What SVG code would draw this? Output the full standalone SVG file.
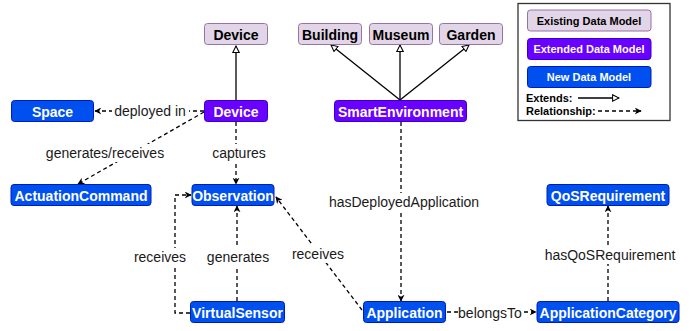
<svg xmlns="http://www.w3.org/2000/svg" width="699" height="331" viewBox="0 0 699 331">
<style>
.n rect{stroke-width:1}
.ex rect{fill:#e1d5e7;stroke:#9673a6}
.ext rect{fill:#6a00ff;stroke:#3700cc}
.nw rect{fill:#0050ef;stroke:#001dbc}
.n text{font-family:"Liberation Sans",Arial,sans-serif;font-weight:bold;font-size:14px;text-anchor:middle;dominant-baseline:central}
.ex text{fill:#000}
.ext text,.nw text{fill:#fff}
.lg text{font-size:11px}
.c path,.c line,.c polyline{fill:none;stroke:#000;stroke-width:1.3}
.dash{stroke-dasharray:4 3}
.lbl rect{fill:#fff}
.lbl text{font-family:"Liberation Sans",Arial,sans-serif;font-size:14px;fill:#1a1a1a;text-anchor:middle;dominant-baseline:central}
.lt{font-family:"Liberation Sans",Arial,sans-serif;font-weight:bold;font-size:11px;fill:#000}
</style>
<defs>
<marker id="rel" viewBox="0 0 10 10" refX="9" refY="5" markerWidth="7" markerHeight="7" markerUnits="userSpaceOnUse" orient="auto">
<path d="M0,0 L10,5 L0,10 L3,5 Z" fill="#000" stroke="none"/>
</marker>
<marker id="ext" viewBox="0 0 10 10" refX="9" refY="5" markerWidth="8" markerHeight="8" markerUnits="userSpaceOnUse" orient="auto">
<path d="M1,1 L9,5 L1,9 Z" fill="#fff" stroke="#000" stroke-width="1.3"/>
</marker>
</defs>

<g id="connectors" class="c">
<line x1="236" y1="100" x2="236" y2="46" marker-end="url(#ext)"/>
<line x1="400" y1="100" x2="331" y2="45" marker-end="url(#ext)"/>
<line x1="400" y1="100" x2="400" y2="45" marker-end="url(#ext)"/>
<line x1="400" y1="100" x2="469" y2="45" marker-end="url(#ext)"/>
<line class="dash" x1="204" y1="111" x2="95" y2="111" marker-end="url(#rel)"/>
<line class="dash" x1="204" y1="112" x2="78" y2="184" marker-end="url(#rel)"/>
<line class="dash" x1="236" y1="122" x2="236" y2="184" marker-end="url(#rel)"/>
<line class="dash" x1="401" y1="122" x2="401" y2="301" marker-end="url(#rel)"/>
<line class="dash" x1="237" y1="301" x2="237" y2="206" marker-end="url(#rel)"/>
<polyline class="dash" points="190,313 175,313 175,195 191,195" marker-end="url(#rel)"/>
<line class="dash" x1="362" y1="310" x2="276" y2="197" marker-end="url(#rel)"/>
<line class="dash" x1="447" y1="312" x2="536" y2="312" marker-end="url(#rel)"/>
<line class="dash" x1="608" y1="301" x2="608" y2="206" marker-end="url(#rel)"/>
</g>

<g id="labels" class="lbl">
<rect x="112" y="102" width="77" height="18"/><text x="150" y="111">deployed in</text>
<rect x="45" y="144" width="120" height="18"/><text x="105" y="153">generates/receives</text>
<rect x="210" y="144" width="58" height="18"/><text x="239" y="153">captures</text>
<rect x="327" y="193" width="154" height="18"/><text x="404" y="202">hasDeployedApplication</text>
<rect x="133" y="248" width="54" height="18"/><text x="160" y="257">receives</text>
<rect x="204" y="248" width="68" height="18"/><text x="238" y="257">generates</text>
<rect x="291" y="245" width="54" height="18"/><text x="318" y="254">receives</text>
<rect x="542" y="246" width="136" height="18"/><text x="610" y="255">hasQoSRequirement</text>
<rect x="458" y="304" width="64" height="18"/><text x="490" y="313">belongsTo</text>
</g>

<g id="node-device-ex" class="n ex"><rect x="204.5" y="23.5" width="63" height="21" rx="3"/><text x="236" y="34.5">Device</text></g>
<g id="node-building" class="n ex"><rect x="298.5" y="23.5" width="63" height="21" rx="3"/><text x="330" y="34.5">Building</text></g>
<g id="node-museum" class="n ex"><rect x="369.5" y="23.5" width="63" height="21" rx="3"/><text x="401" y="34.5">Museum</text></g>
<g id="node-garden" class="n ex"><rect x="439.5" y="23.5" width="63" height="21" rx="3"/><text x="471" y="34.5">Garden</text></g>

<g id="node-space" class="n nw"><rect x="11.5" y="100.5" width="82" height="21" rx="3"/><text x="52.5" y="111.5">Space</text></g>
<g id="node-device" class="n ext"><rect x="204.5" y="100.5" width="63" height="21" rx="3"/><text x="236" y="111.5">Device</text></g>
<g id="node-smartenv" class="n ext"><rect x="334.5" y="100.5" width="132" height="21" rx="3"/><text x="400.5" y="111.5">SmartEnvironment</text></g>

<g id="node-actuation" class="n nw"><rect x="11" y="184.5" width="140" height="21" rx="3"/><text x="81" y="195.5">ActuationCommand</text></g>
<g id="node-observation" class="n nw"><rect x="192" y="184.5" width="82" height="21" rx="3"/><text x="233" y="195.5">Observation</text></g>
<g id="node-qos" class="n nw"><rect x="547" y="184.5" width="122" height="21" rx="3"/><text x="608" y="195.5">QoSRequirement</text></g>

<g id="node-virtualsensor" class="n nw"><rect x="190.5" y="301.5" width="94" height="21" rx="3"/><text x="237.5" y="312.5">VirtualSensor</text></g>
<g id="node-application" class="n nw"><rect x="363.5" y="301.5" width="82" height="21" rx="3"/><text x="404.5" y="312.5">Application</text></g>
<g id="node-appcategory" class="n nw"><rect x="537" y="301.5" width="142" height="21" rx="3"/><text x="608" y="312.5">ApplicationCategory</text></g>

<g id="legend">
<rect x="518" y="3.5" width="152" height="117" fill="#fff" stroke="#333" stroke-width="1.3"/>
<g class="n ex lg"><rect x="527.5" y="10" width="123.5" height="21" rx="3"/><text x="589" y="20.5">Existing Data Model</text></g>
<g class="n ext lg"><rect x="527.5" y="38.5" width="123.5" height="21" rx="3"/><text x="589" y="49">Extended Data Model</text></g>
<g class="n nw lg"><rect x="527.5" y="66.5" width="123.5" height="21" rx="3"/><text x="589" y="77">New Data Model</text></g>
<text class="lt" x="526" y="102">Extends:</text>
<text class="lt" x="526" y="115">Relationship:</text>
<g class="c">
<line x1="578" y1="98" x2="619" y2="98" marker-end="url(#ext)"/>
<line class="dash" x1="598" y1="111" x2="641" y2="111" marker-end="url(#rel)"/>
</g>
</g>
</svg>
